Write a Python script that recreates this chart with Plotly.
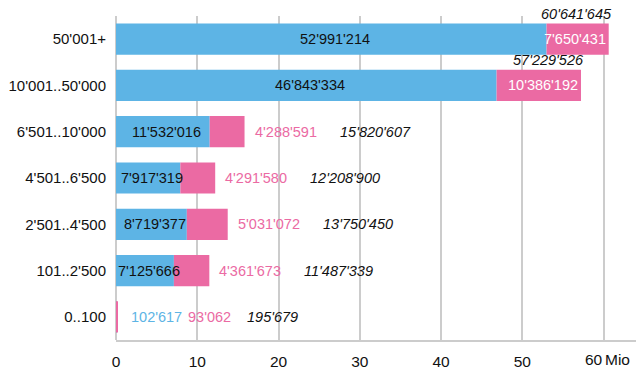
import plotly.graph_objects as go

# Income classes (CHF), top to bottom
categories = ["50'001+", "10'001..50'000", "6'501..10'000", "4'501..6'500",
              "2'501..4'500", "101..2'500", "0..100"]
# Two components per class and the stated totals
blue_vals = [52991214, 46843334, 11532016, 7917319, 8719377, 7125666, 102617]
pink_vals = [7650431, 10386192, 4288591, 4291580, 5031072, 4361673, 93062]
total_vals = [60641645, 57229526, 15820607, 12208900, 13750450, 11487339, 195679]
x_ticks = [0, 10, 20, 30, 40, 50, 60]

BLUE = "#5DB4E5"
PINK = "#EB6AA3"
GRID = "#CCCCCC"
INK = "#111111"
FONT = "Liberation Sans, Arial, Helvetica, sans-serif"
FS = 14.5
FS_CAT = 15
FS_TICK = 15.5


def fmt(v):
    return f"{v:,}".replace(",", "'")


def mio(v):
    return v / 1e6


fig = go.Figure()
fig.add_trace(go.Bar(y=categories, x=[mio(v) for v in blue_vals], orientation="h",
                     marker=dict(color=BLUE, line=dict(width=0)), hoverinfo="skip"))
fig.add_trace(go.Bar(y=categories, x=[mio(v) for v in pink_vals], orientation="h",
                     base=[mio(v) for v in blue_vals],
                     marker=dict(color=PINK, line=dict(width=0)), hoverinfo="skip"))

ann = []


def label(x, y, text, color, anchor="center", xshift=0, yshift=0, italic=False):
    t = f"<i>{text}</i>" if italic else text
    ann.append(dict(x=x, y=y, xref="x", yref="y", text=t, showarrow=False,
                    xanchor=anchor, yanchor="middle", xshift=xshift, yshift=yshift,
                    font=dict(family=FONT, size=FS, color=color)))


for cat, b, p, t in zip(categories, blue_vals, pink_vals, total_vals):
    bx, px = mio(b), mio(p)
    end = bx + px
    if px >= 7:
        # wide rows: both values inside, total above the bar end
        label(bx / 2, cat, fmt(b), INK, xshift=4)
        label(end, cat, fmt(p), "white", anchor="right", xshift=-1)
        label(end, cat, fmt(t), INK, anchor="right", xshift=5, yshift=25, italic=True)
    elif bx >= 2:
        label(bx / 2, cat, fmt(b), INK, xshift=4)
        label(end, cat, fmt(p), PINK, anchor="left", xshift=8)
        label(end, cat, fmt(t), INK, anchor="left", xshift=93, italic=True)
    else:
        # tiny bar: every value sits to the right
        label(end, cat, fmt(b), BLUE, anchor="left", xshift=11)
        label(end, cat, fmt(p), PINK, anchor="left", xshift=68)
        label(end, cat, fmt(t), INK, anchor="left", xshift=127, italic=True)

# last tick value with its unit
for txt, anchor, dx in [(str(x_ticks[-1]), "right", 1), ("Mio", "left", -1)]:
    ann.append(dict(x=x_ticks[-1], y=0, xref="x", yref="paper", text=txt,
                    showarrow=False, xanchor=anchor, yanchor="top", xshift=dx, yshift=-9,
                    font=dict(family=FONT, size=FS_TICK, color=INK)))

fig.update_layout(
    width=636, height=370,
    margin=dict(l=116, r=0, t=16, b=24),
    barmode="overlay", bargap=0.326,
    showlegend=False,
    paper_bgcolor="white", plot_bgcolor="white",
    font=dict(family=FONT, size=FS, color=INK),
    annotations=ann,
    xaxis=dict(range=[0, 64.0], tickvals=x_ticks,
               ticktext=[str(v) for v in x_ticks[:-1]] + [""],
               showgrid=True, gridcolor=GRID, gridwidth=2,
               zeroline=True, zerolinecolor=GRID, zerolinewidth=2,
               showline=True, linecolor=GRID, linewidth=2,
               ticks="", ticklabelstandoff=6, fixedrange=True,
               tickfont=dict(family=FONT, size=FS_TICK, color=INK)),
    yaxis=dict(categoryorder="array", categoryarray=categories, autorange="reversed",
               showgrid=False, zeroline=False, showline=False, ticks="",
               ticklabelstandoff=9, fixedrange=True,
               tickfont=dict(family=FONT, size=FS_CAT, color=INK)),
)

fig.write_html("out.html")
